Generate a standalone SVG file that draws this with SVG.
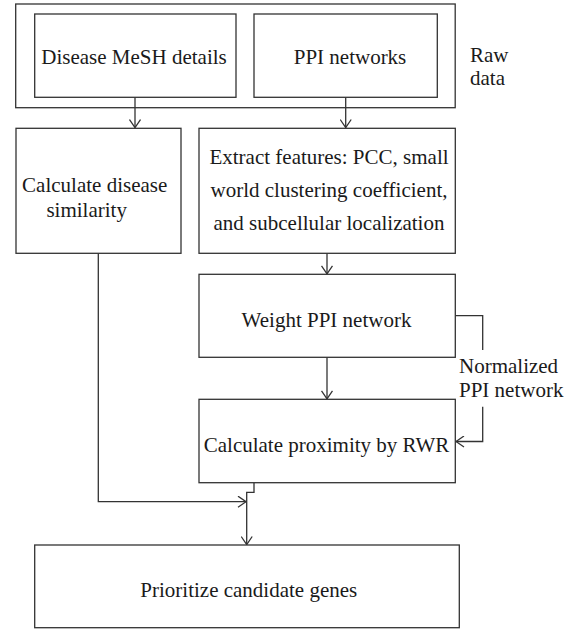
<svg xmlns="http://www.w3.org/2000/svg" width="575" height="629" viewBox="0 0 575 629">
<defs>
<style>
.box{fill:#fff;stroke:#333;stroke-width:1.3}
.frame{fill:none;stroke:#333;stroke-width:1.3}
.ln{fill:none;stroke:#333;stroke-width:1.3}
text{font-family:"Liberation Serif","Times New Roman",serif;font-size:21px;fill:#1a1a1a}
.c{text-anchor:middle}
</style>
<marker id="ah" viewBox="0 0 10 12" refX="9" refY="6" markerWidth="10" markerHeight="12" markerUnits="userSpaceOnUse" orient="auto">
<path d="M1,0.5 L9,6 L1,11.5" fill="none" stroke="#333" stroke-width="1.3"/>
</marker>
</defs>
<rect width="575" height="629" fill="#fff"/>
<g id="rawdata">
<rect class="frame" x="15.7" y="4" width="439.5" height="103.7"/>
<text x="470" y="61.5">Raw</text>
<text x="470" y="85">data</text>
</g>
<g id="connectors">
<path class="ln" d="M135,97.3 V127.5" marker-end="url(#ah)"/>
<path class="ln" d="M345.7,97.3 V127.5" marker-end="url(#ah)"/>
<path class="ln" d="M327,253.3 V273.8" marker-end="url(#ah)"/>
<path class="ln" d="M327,357.3 V398.8" marker-end="url(#ah)"/>
<path class="ln" d="M455.3,315.7 H482.7 V350"/>
<path class="ln" d="M482.7,406.7 V441.5 H456" marker-end="url(#ah)"/>
<path class="ln" d="M98.3,253.3 V501.7 H246" marker-end="url(#ah)"/>
<path class="ln" d="M254,482.7 V492.3 H246.7 V544.5" marker-end="url(#ah)"/>
</g>
<g id="disease-mesh">
<rect class="box" x="34.7" y="14" width="201.3" height="83.3"/>
<text class="c" x="134" y="64">Disease MeSH details</text>
</g>
<g id="ppi-networks">
<rect class="box" x="254" y="14" width="183.3" height="83.3"/>
<text class="c" x="350" y="64">PPI networks</text>
</g>
<g id="calc-disease">
<rect class="box" x="16" y="128.3" width="165" height="125"/>
<text class="c" x="94.7" y="191.5">Calculate disease</text>
<text class="c" x="86.7" y="217">similarity</text>
</g>
<g id="extract">
<rect class="box" x="199" y="128.3" width="256.3" height="125"/>
<text class="c" x="329" y="164">Extract features: PCC, small</text>
<text class="c" x="329" y="197">world clustering coefficient,</text>
<text class="c" x="329" y="230">and subcellular localization</text>
</g>
<g id="weight-ppi">
<rect class="box" x="199" y="274.3" width="256.3" height="83"/>
<text class="c" x="326.5" y="326.5">Weight PPI network</text>
</g>
<g id="normalized-label">
<text x="459" y="373">Normalized</text>
<text x="459" y="396.5">PPI network</text>
</g>
<g id="proximity">
<rect class="box" x="199" y="399.3" width="256.3" height="83.4"/>
<text class="c" x="326.5" y="452">Calculate proximity by RWR</text>
</g>
<g id="prioritize">
<rect class="box" x="34.7" y="545" width="424.6" height="82.7"/>
<text class="c" x="248.8" y="596.5">Prioritize candidate genes</text>
</g>
</svg>
